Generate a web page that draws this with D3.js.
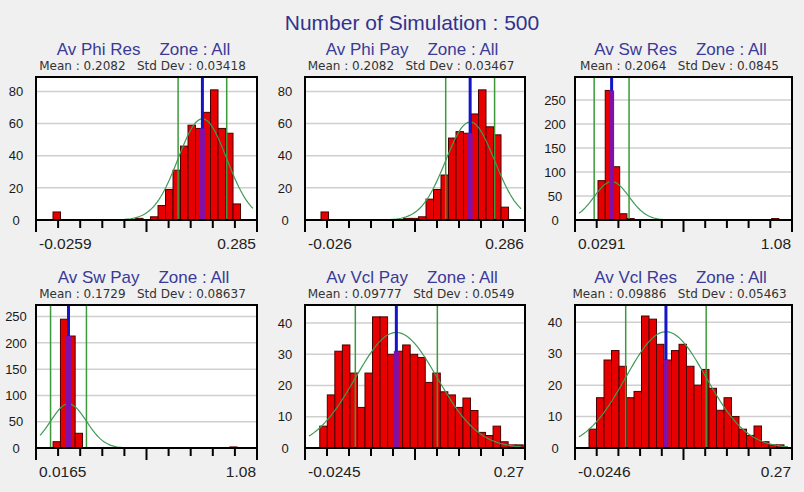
<!DOCTYPE html>
<html>
<head>
<meta charset="utf-8">
<script src="https://cdn.jsdelivr.net/npm/d3@7"></script>
<style>
  body { margin: 0; background: #f0f0f0; }
  svg { display: block; }
</style>
</head>
<body>
<div id="chart"></div>
<script>
// Monte Carlo result histograms
var mainTitle = "Number of Simulation : 500";
var panelNames = ["Av Phi Res", "Av Phi Pay", "Av Sw Res", "Av Sw Pay", "Av Vcl Pay", "Av Vcl Res"];
var meanText = ["0.2082", "0.2082", "0.2064", "0.1729", "0.09777", "0.09886"];
var stdText = ["0.03418", "0.03467", "0.0845", "0.08637", "0.0549", "0.05463"];
var xMinText = ["-0.0259", "-0.026", "0.0291", "0.0165", "-0.0245", "-0.0246"];
var xMaxText = ["0.285", "0.286", "1.08", "1.08", "0.27", "0.27"];
var yTops = [89, 89, 298, 272, 45.8, 45.5];
var yTickValues = [
    [0, 20, 40, 60, 80],
    [0, 20, 40, 60, 80],
    [0, 50, 100, 150, 200, 250],
    [0, 50, 100, 150, 200, 250],
    [0, 10, 20, 30, 40],
    [0, 10, 20, 30, 40]
];
// peak height of the fitted normal curve (counts)
var curvePeaks = [63, 61, 80, 84, 37, 37];
// left edge of the first bin and bin width, in axis units
var binStarts = [-0.00199, -0.00331, 0.14048, 0.09867, -0.00473, -0.00559];
var binWidths = [0.010552, 0.010637, 0.03503, 0.03543, 0.010086, 0.010182];
// bar counts, one per bin from the first bin
var counts = [
    [5, 0, 0, 0, 0, 0, 0, 0, 0, 0, 0, 1, 0, 2, 9, 19, 31, 46, 59, 57, 67, 81, 57, 54, 10],
    [5, 0, 0, 0, 0, 0, 0, 0, 0, 0, 0, 1, 1, 2, 13, 19, 28, 51, 55, 54, 66, 81, 58, 53, 8],
    [82, 270, 111, 13, 3, 0, 0, 0, 0, 0, 0, 0, 0, 0, 0, 0, 0, 0, 0, 0, 0, 0, 0, 0, 3],
    [12, 245, 213, 28, 0, 0, 0, 0, 0, 0, 0, 0, 0, 0, 0, 0, 0, 0, 0, 0, 0, 0, 0, 0, 2],
    [7, 17, 31, 33, 24, 13, 24, 42, 42, 30, 31, 33, 30, 29, 21, 24, 18, 17, 13, 16, 12, 5, 4, 7, 2, 1, 1],
    [6, 16, 28, 31, 26, 16, 18, 42, 41, 33, 28, 31, 33, 26, 20, 25, 19, 12, 16, 10, 6, 4, 7, 2, 1, 1]
];

var width = 804, height = 492;
var cols = [[36, 257], [305, 525], [575, 792]];
var rows = [[77, 220], [305, 448]];

var svg = d3.select("#chart").append("svg")
    .attr("width", width)
    .attr("height", height);

svg.append("rect").attr("width", width).attr("height", height).attr("fill", "#f0f0f0");

svg.append("text")
    .attr("x", 412).attr("y", 30)
    .attr("text-anchor", "middle")
    .attr("font-family", "Liberation Sans, Arial, sans-serif")
    .attr("font-size", 21)
    .attr("fill", "#32328c")
    .text(mainTitle);

panelNames.forEach(function(name, p) {
    var c = cols[p % 3], r = rows[Math.floor(p / 3)];
    var x0 = c[0], x1 = c[1], top = r[0], base = r[1];
    var xMin = +xMinText[p], xMax = +xMaxText[p];
    var mean = +meanText[p], sd = +stdText[p];

    var x = d3.scaleLinear().domain([xMin, xMax]).range([x0, x1]);
    var y = d3.scaleLinear().domain([0, yTops[p]]).range([base, top]);
    var g = svg.append("g");

    // titles
    g.append("text")
        .attr("x", (x0 + x1) / 2 - 3).attr("y", top - 22)
        .attr("text-anchor", "middle")
        .attr("font-family", "Liberation Sans, Arial, sans-serif")
        .attr("font-size", 17)
        .attr("fill", "#3a3a98")
        .style("white-space", "pre")
        .text(name + "    Zone : All");
    g.append("text")
        .attr("x", (x0 + x1) / 2 - 4).attr("y", top - 7)
        .attr("text-anchor", "middle")
        .attr("font-family", "DejaVu Sans, sans-serif")
        .attr("font-size", 12)
        .attr("fill", "#333")
        .style("white-space", "pre")
        .text("Mean : " + meanText[p] + "   Std Dev : " + stdText[p]);

    // plot area
    g.append("rect")
        .attr("x", x0).attr("y", top)
        .attr("width", x1 - x0).attr("height", base - top)
        .attr("fill", "#fff");

    // grid + y labels
    g.selectAll(".grid").data(yTickValues[p]).enter().append("line")
        .attr("x1", x0).attr("x2", x1)
        .attr("y1", function(d) { return y(d); })
        .attr("y2", function(d) { return y(d); })
        .attr("stroke", "#cfcfcf")
        .attr("stroke-width", 1.5);
    g.selectAll(".ylab").data(yTickValues[p]).enter().append("text")
        .attr("x", x0 - 20)
        .attr("y", function(d) { return y(d); })
        .attr("dy", "0.36em")
        .attr("text-anchor", "middle")
        .attr("font-family", "Liberation Sans, Arial, sans-serif")
        .attr("font-size", 13)
        .attr("fill", "#1a1a1a")
        .text(function(d) { return d; });

    // bars
    var bw = binWidths[p];
    var bins = counts[p].map(function(v, i) {
        return { x0: binStarts[p] + i * bw, x1: binStarts[p] + (i + 1) * bw, n: v };
    });
    g.selectAll(".bar").data(bins.filter(function(d) { return d.n > 0; })).enter().append("rect")
        .attr("x", function(d) { return x(d.x0); })
        .attr("width", function(d) { return x(d.x1) - x(d.x0); })
        .attr("y", function(d) { return y(d.n); })
        .attr("height", function(d) { return base - y(d.n); })
        .attr("fill", "#e60000")
        .attr("stroke", "#4a0000")
        .attr("stroke-width", 1);

    // mean +/- std lines
    [mean - sd, mean + sd].forEach(function(v) {
        g.append("line")
            .attr("x1", x(v)).attr("x2", x(v))
            .attr("y1", top).attr("y2", base)
            .attr("stroke", "#3c9a3c")
            .attr("stroke-width", 1.5);
    });

    // fitted normal curve
    var pts = d3.range(0, 121).map(function(i) {
        var v = x.invert(x0 + 4 + (x1 - x0 - 8) * i / 120);
        return [v, curvePeaks[p] * Math.exp(-0.5 * Math.pow((v - mean) / sd, 2))];
    });
    g.append("path")
        .attr("d", d3.line().x(function(d) { return x(d[0]); }).y(function(d) { return y(d[1]); })(pts))
        .attr("fill", "none")
        .attr("stroke", "#3f9a55")
        .attr("stroke-width", 1.2);

    // mean line (blue, purple where it crosses the bar)
    var hit = bins.find(function(d) { return mean >= d.x0 && mean < d.x1; });
    g.append("line")
        .attr("x1", x(mean)).attr("x2", x(mean))
        .attr("y1", top).attr("y2", base)
        .attr("stroke", "#1414c8")
        .attr("stroke-width", 3);
    if (hit && hit.n > 0) {
        g.append("rect")
            .attr("x", x(mean) - 2.5).attr("width", 5)
            .attr("y", y(hit.n)).attr("height", base - y(hit.n))
            .attr("fill", "#8010a8");
    }

    // frame
    g.append("rect")
        .attr("x", x0).attr("y", top)
        .attr("width", x1 - x0).attr("height", base - top)
        .attr("fill", "none")
        .attr("stroke", "#000")
        .attr("stroke-width", 2);

    // x ticks
    var tickVals = d3.range(0, 11).map(function(i) { return xMin + (xMax - xMin) * i / 10; });
    g.selectAll(".xt").data(tickVals).enter().append("line")
        .attr("x1", function(d) { return x(d); })
        .attr("x2", function(d) { return x(d); })
        .attr("y1", base)
        .attr("y2", function(d, i) { return base + (i % 5 === 0 ? 12 : 8); })
        .attr("stroke", "#000")
        .attr("stroke-width", 2);
    g.append("text")
        .attr("x", x0 + 3).attr("y", base + 29)
        .attr("font-family", "Liberation Sans, Arial, sans-serif")
        .attr("font-size", 15.5)
        .attr("fill", "#222")
        .text(xMinText[p]);
    g.append("text")
        .attr("x", x1 - 1).attr("y", base + 29)
        .attr("text-anchor", "end")
        .attr("font-family", "Liberation Sans, Arial, sans-serif")
        .attr("font-size", 15.5)
        .attr("fill", "#222")
        .text(xMaxText[p]);
});
</script>
</body>
</html>
